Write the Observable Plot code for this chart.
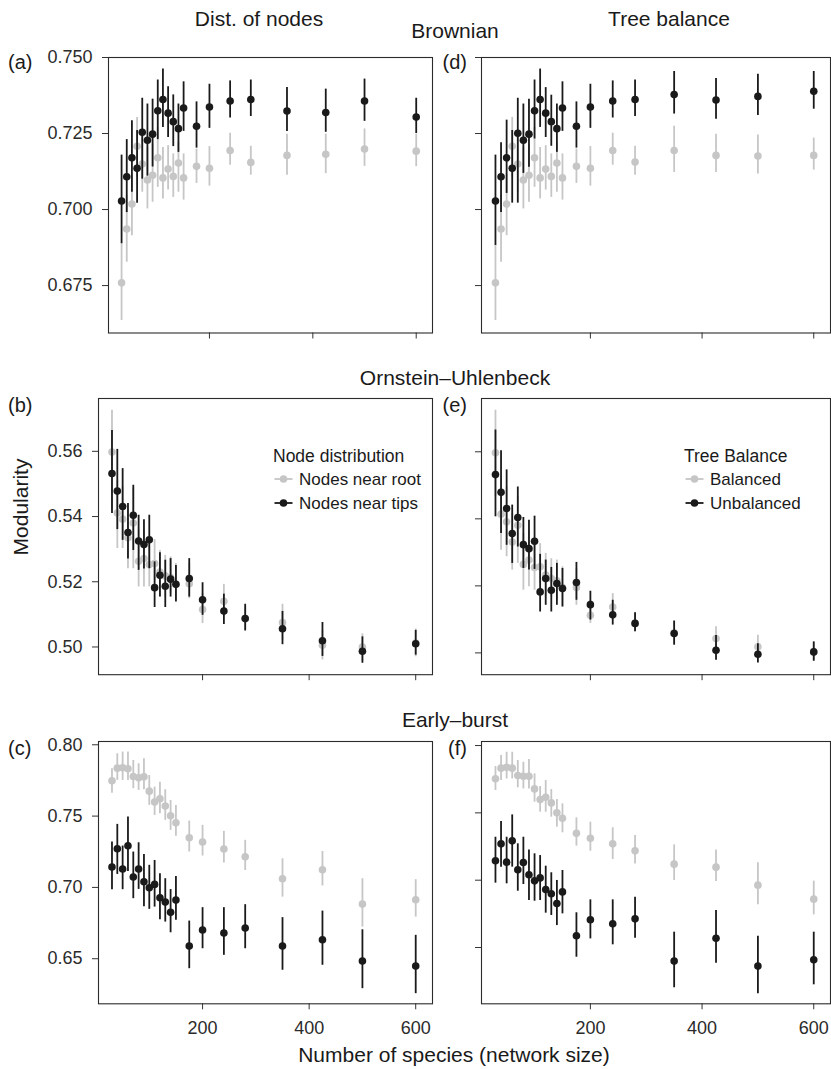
<!DOCTYPE html>
<html>
<head>
<meta charset="utf-8">
<script src="https://cdn.jsdelivr.net/npm/d3@7"></script>
<script src="https://cdn.jsdelivr.net/npm/@observablehq/plot@0.6"></script>
<style>
  body { margin: 0; background: #fff; }
  #chart { position: relative; width: 831px; height: 1069px; background: #fff; overflow: hidden; }
  #chart svg { position: absolute; }
</style>
</head>
<body>
<div id="chart"></div>
<script>
// ---------------- DATA ----------------
const sizes = [30,40,50,60,70,80,90,100,110,120,130,140,150,175,200,240,280,350,425,500,600];
const xTicks = [200, 400, 600];

// (a) Brownian – distribution of nodes
const aRootMean = [.6759,.6936,.7018,.7208,.7150,.7097,.7113,.7170,.7104,.7133,.7109,.7153,.7104,.7142,.7136,.7194,.7155,.7178,.7182,.7199,.7192];
const aRootLo   = [.6635,.6827,.6914,.7106,.7057,.7002,.7024,.7073,.7035,.7064,.7040,.7057,.7031,.7086,.7077,.7146,.7113,.7113,.7118,.7142,.7141];
const aRootHi   = [.6885,.7046,.7117,.7303,.7243,.7204,.7215,.7270,.7204,.7210,.7183,.7221,.7183,.7199,.7207,.7251,.7208,.7248,.7248,.7265,.7248];
const aTipsMean = [.7028,.7108,.7170,.7136,.7254,.7228,.7248,.7325,.7362,.7317,.7289,.7266,.7334,.7274,.7337,.7357,.7362,.7324,.7319,.7357,.7304];
const aTipsLo   = [.6887,.6990,.7057,.7021,.7100,.7110,.7140,.7230,.7270,.7237,.7207,.7188,.7257,.7202,.7267,.7301,.7306,.7257,.7254,.7290,.7250];
const aTipsHi   = [.7179,.7230,.7292,.7260,.7366,.7347,.7363,.7426,.7462,.7404,.7377,.7347,.7420,.7354,.7412,.7423,.7426,.7401,.7396,.7429,.7366];

// (d) Brownian – tree balance
const dBalMean   = [.6759,.6936,.7018,.7208,.7150,.7097,.7113,.7170,.7104,.7133,.7109,.7153,.7104,.7142,.7136,.7194,.7156,.7194,.7178,.7176,.7178];
const dBalLo     = [.6635,.6827,.6914,.7106,.7057,.7002,.7024,.7073,.7035,.7064,.7040,.7057,.7031,.7086,.7077,.7146,.7113,.7122,.7122,.7117,.7130];
const dBalHi     = [.6885,.7046,.7117,.7303,.7243,.7204,.7215,.7270,.7204,.7210,.7183,.7221,.7183,.7199,.7207,.7251,.7208,.7274,.7248,.7245,.7235];
const dUnbalMean = [.7028,.7108,.7170,.7136,.7251,.7228,.7248,.7325,.7362,.7317,.7289,.7266,.7334,.7274,.7337,.7357,.7362,.7378,.7360,.7372,.7389];
const dUnbalLo   = [.6882,.6990,.7053,.7021,.7021,.7119,.7139,.7232,.7270,.7237,.7208,.7188,.7257,.7202,.7267,.7301,.7306,.7314,.7297,.7309,.7330];
const dUnbalHi   = [.7179,.7220,.7294,.7260,.7366,.7347,.7363,.7426,.7462,.7401,.7376,.7347,.7420,.7354,.7412,.7423,.7426,.7454,.7431,.7445,.7454];

// (b) Ornstein–Uhlenbeck – distribution of nodes
const bRootMean = [.5598,.5411,.5392,.5335,.5380,.5263,.5271,.5253,.5256,.5230,.5218,.5213,.5192,.5194,.5115,.5140,.5087,.5075,.5005,.5000,.5012];
const bRootLo   = [.5420,.5302,.5302,.5240,.5240,.5184,.5184,.5184,.5204,.5153,.5153,.5164,.5143,.5148,.5072,.5092,.5051,.5020,.4960,.4955,.4970];
const bRootHi   = [.5726,.5511,.5491,.5430,.5486,.5360,.5358,.5332,.5329,.5296,.5281,.5276,.5256,.5256,.5164,.5192,.5123,.5131,.5050,.5040,.5055];
const bTipsMean = [.5532,.5478,.5431,.5351,.5404,.5325,.5314,.5329,.5182,.5220,.5186,.5208,.5192,.5210,.5145,.5110,.5087,.5056,.5019,.4987,.5010];
const bTipsLo   = [.5409,.5360,.5327,.5270,.5296,.5235,.5239,.5240,.5121,.5153,.5121,.5153,.5138,.5153,.5097,.5069,.5049,.5007,.4971,.4950,.4975];
const bTipsHi   = [.5664,.5606,.5547,.5440,.5496,.5404,.5390,.5404,.5261,.5289,.5266,.5271,.5250,.5271,.5197,.5162,.5131,.5109,.5075,.5031,.5051];

// (e) Ornstein–Uhlenbeck – tree balance
const eBalMean   = [.5597,.5414,.5391,.5331,.5381,.5264,.5277,.5255,.5257,.5232,.5222,.5215,.5195,.5195,.5112,.5137,.5088,.5060,.5043,.5018,.5003];
const eBalLo     = [.5466,.5306,.5287,.5247,.5267,.5187,.5197,.5187,.5207,.5167,.5167,.5157,.5137,.5142,.5088,.5098,.5063,.5025,.5008,.4983,.4978];
const eBalHi     = [.5724,.5525,.5495,.5416,.5466,.5356,.5366,.5336,.5326,.5297,.5281,.5277,.5257,.5252,.5157,.5177,.5120,.5095,.5078,.5053,.5030];
const eUnbalMean = [.5532,.5479,.5431,.5356,.5404,.5323,.5311,.5333,.5182,.5222,.5187,.5207,.5192,.5210,.5144,.5114,.5088,.5058,.5008,.4996,.5003];
const eUnbalLo   = [.5406,.5356,.5321,.5267,.5316,.5252,.5247,.5249,.5122,.5142,.5122,.5142,.5137,.5157,.5098,.5083,.5063,.5023,.4978,.4970,.4975];
const eUnbalHi   = [.5665,.5603,.5546,.5441,.5495,.5404,.5396,.5408,.5294,.5277,.5255,.5267,.5252,.5270,.5184,.5157,.5120,.5095,.5052,.5027,.5033];

// (c) Early–burst – distribution of nodes
const cRootMean = [.7748,.7836,.7839,.7832,.7778,.7769,.7776,.7675,.7598,.7622,.7570,.7502,.7453,.7348,.7318,.7269,.7215,.7061,.7124,.6883,.6914];
const cRootLo   = [.7661,.7750,.7750,.7750,.7692,.7680,.7685,.7575,.7505,.7516,.7470,.7400,.7358,.7248,.7220,.7171,.7119,.6932,.7010,.6722,.6792];
const cRootHi   = [.7832,.7937,.7949,.7949,.7890,.7867,.7902,.7785,.7703,.7738,.7685,.7610,.7575,.7465,.7435,.7393,.7330,.7201,.7252,.7061,.7054];
const cTipsMean = [.7143,.7271,.7129,.7292,.7073,.7129,.7040,.6998,.7021,.6928,.6897,.6825,.6911,.6589,.6701,.6680,.6715,.6589,.6633,.6484,.6449];
const cTipsLo   = [.6984,.7091,.6984,.7112,.6921,.6986,.6865,.6846,.6862,.6774,.6757,.6682,.6769,.6430,.6570,.6524,.6570,.6419,.6454,.6290,.6255];
const cTipsHi   = [.7318,.7442,.7290,.7493,.7248,.7313,.7231,.7155,.7189,.7096,.7061,.6985,.7077,.6764,.6858,.6858,.6879,.6788,.6834,.6703,.6664];

// (f) Early–burst – tree balance
const fBalMean   = [.7753,.7832,.7839,.7832,.7777,.7772,.7772,.7678,.7599,.7616,.7574,.7500,.7460,.7349,.7312,.7270,.7218,.7119,.7097,.6963,.6859];
const fBalLo     = [.7666,.7740,.7752,.7752,.7686,.7678,.7678,.7579,.7505,.7505,.7468,.7394,.7352,.7253,.7215,.7154,.7121,.6998,.6990,.6817,.6743];
const fBalHi     = [.7844,.7926,.7950,.7950,.7889,.7876,.7896,.7790,.7696,.7740,.7673,.7599,.7567,.7463,.7431,.7389,.7332,.7262,.7225,.7129,.6993];
const fUnbalMean = [.7144,.7270,.7134,.7292,.7077,.7131,.7040,.6995,.7017,.6931,.6899,.6827,.6913,.6587,.6706,.6676,.6713,.6399,.6569,.6362,.6409];
const fUnbalLo   = [.6978,.7097,.6973,.7097,.6918,.6968,.6849,.6844,.6849,.6755,.6738,.6663,.6750,.6428,.6564,.6520,.6569,.6201,.6384,.6156,.6223];
const fUnbalHi   = [.7319,.7436,.7319,.7485,.7270,.7319,.7225,.7196,.7183,.7104,.7055,.6998,.7072,.6758,.6854,.6854,.6874,.6614,.6775,.6584,.6614];

const aYTicks = [0.675, 0.700, 0.725, 0.750];
const bYTicks = [0.50, 0.52, 0.54, 0.56];
const cYTicks = [0.65, 0.70, 0.75, 0.80];

const colTitles = ["Dist. of nodes", "Tree balance"];
const rowTitles = ["Brownian", "Ornstein\u2013Uhlenbeck", "Early\u2013burst"];
const panelLetters = ["(a)", "(b)", "(c)", "(d)", "(e)", "(f)"];
const legend1Title = "Node distribution";
const legend1Labels = ["Nodes near root", "Nodes near tips"];
const legend2Title = "Tree Balance";
const legend2Labels = ["Balanced", "Unbalanced"];
const yLabel = "Modularity";
const xLabel = "Number of species (network size)";

// ---------------- DRAWING ----------------
const GREY = "#c6c6c6";
const BLACK = "#1a1a1a";
const FONT = "'Liberation Sans', Arial, Helvetica, sans-serif";
const chart = document.getElementById("chart");

function rows(mean, lo, hi) {
  return sizes.map((x, i) => ({x, y: mean[i], lo: lo[i], hi: hi[i]}));
}

function panel(o) {
  const mL = 70, mR = 1, mT = 4, mB = 45;
  const fw = o.right - o.left, fh = o.bottom - o.top;
  const svg = Plot.plot({
    width: fw + mL + mR,
    height: fh + mT + mB,
    marginLeft: mL, marginRight: mR, marginTop: mT, marginBottom: mB,
    x: {domain: o.xDomain},
    y: {domain: o.yDomain},
    style: {fontFamily: FONT, fontSize: "18px", color: "#2b2b2b", background: "transparent", overflow: "visible"},
    marks: [
      Plot.axisY({ticks: o.yTicks, tickSize: 6, tickPadding: 10, tickFormat: o.showY ? d3.format(o.yFmt) : () => "", label: null, stroke: "#333", fontSize: 18}),
      Plot.axisX({ticks: xTicks, tickSize: 6, tickPadding: 11, tickFormat: o.showX ? d3.format("d") : () => "", label: null, stroke: "#333", fontSize: 18}),
      Plot.ruleX(o.grey, {x: "x", y1: "lo", y2: "hi", stroke: GREY, strokeWidth: 1.8}),
      Plot.dot(o.grey, {x: "x", y: "y", r: 3.8, fill: GREY}),
      Plot.ruleX(o.black, {x: "x", y1: "lo", y2: "hi", stroke: BLACK, strokeWidth: 1.8}),
      Plot.dot(o.black, {x: "x", y: "y", r: 3.8, fill: BLACK}),
      Plot.frame({stroke: "#2b2b2b", strokeWidth: 1.1})
    ]
  });
  svg.style.left = (o.left - mL) + "px";
  svg.style.top = (o.top - mT) + "px";
  svg.style.maxWidth = "none";
  chart.appendChild(svg);
}

const leftX = [4.7, 631.5], rightX = [5, 630];

panel({left: 108, right: 432, top: 57, bottom: 332.5, xDomain: leftX, yDomain: [0.6594, 0.750], yTicks: aYTicks, yFmt: ".3f", showY: true, showX: false,
  grey: rows(aRootMean, aRootLo, aRootHi), black: rows(aTipsMean, aTipsLo, aTipsHi)});
panel({left: 481, right: 830, top: 57, bottom: 332.5, xDomain: rightX, yDomain: [0.6594, 0.750], yTicks: aYTicks, yFmt: ".3f", showY: false, showX: false,
  grey: rows(dBalMean, dBalLo, dBalHi), black: rows(dUnbalMean, dUnbalLo, dUnbalHi)});
panel({left: 98, right: 432, top: 398.3, bottom: 674.5, xDomain: leftX, yDomain: [0.4915, 0.5762], yTicks: bYTicks, yFmt: ".2f", showY: true, showX: false,
  grey: rows(bRootMean, bRootLo, bRootHi), black: rows(bTipsMean, bTipsLo, bTipsHi)});
panel({left: 481, right: 830, top: 398.3, bottom: 674.5, xDomain: rightX, yDomain: [0.4935, 0.5759], yTicks: bYTicks, yFmt: ".2f", showY: false, showX: false,
  grey: rows(eBalMean, eBalLo, eBalHi), black: rows(eUnbalMean, eUnbalLo, eUnbalHi)});
panel({left: 98, right: 432, top: 741, bottom: 1003.3, xDomain: leftX, yDomain: [0.6184, 0.8023], yTicks: cYTicks, yFmt: ".2f", showY: true, showX: true,
  grey: rows(cRootMean, cRootLo, cRootHi), black: rows(cTipsMean, cTipsLo, cTipsHi)});
panel({left: 481, right: 830, top: 741, bottom: 1003.3, xDomain: rightX, yDomain: [0.6082, 0.803], yTicks: cYTicks, yFmt: ".2f", showY: false, showX: true,
  grey: rows(fBalMean, fBalLo, fBalHi), black: rows(fUnbalMean, fUnbalLo, fUnbalHi)});

// ---------------- TEXT OVERLAY ----------------
const ov = d3.select(chart).append("svg")
  .attr("width", 831).attr("height", 1069)
  .style("left", "0px").style("top", "0px").style("pointer-events", "none")
  .style("font-family", FONT).style("fill", "#1a1a1a");

function txt(x, y, s, size, anchor = "start", extra) {
  const t = ov.append("text").attr("x", x).attr("y", y).attr("font-size", size).attr("text-anchor", anchor).text(s);
  if (extra) extra(t);
  return t;
}

txt(259, 25.7, colTitles[0], 21, "middle");
txt(669, 25.7, colTitles[1], 21, "middle");
txt(455, 38.3, rowTitles[0], 21, "middle");
txt(455, 385, rowTitles[1], 21, "middle");
txt(455, 727, rowTitles[2], 21, "middle");

txt(8, 68.5, panelLetters[0], 20);
txt(8, 411.5, panelLetters[1], 20);
txt(8, 755, panelLetters[2], 20);
txt(467, 68.5, panelLetters[3], 20, "end");
txt(467, 411.5, panelLetters[4], 20, "end");
txt(467, 755, panelLetters[5], 20, "end");

txt(0, 0, yLabel, 21, "middle", t => t.attr("transform", "translate(28,507) rotate(-90)"));
txt(454, 1062, xLabel, 21, "middle");

function legend(x0, symX, textX, title, labels) {
  txt(x0, 462.3, title, 17.5);
  const ys = [479, 503];
  const cols = [GREY, BLACK];
  labels.forEach((lab, i) => {
    ov.append("line").attr("x1", symX - 9).attr("x2", symX + 9).attr("y1", ys[i]).attr("y2", ys[i])
      .attr("stroke", cols[i]).attr("stroke-width", 1.8);
    ov.append("circle").attr("cx", symX).attr("cy", ys[i]).attr("r", 3.8).attr("fill", cols[i]);
    txt(textX, ys[i] + 6.2, lab, 17);
  });
}
legend(273, 283.5, 299, legend1Title, legend1Labels);
legend(684, 694.5, 710, legend2Title, legend2Labels);
</script>
</body>
</html>
